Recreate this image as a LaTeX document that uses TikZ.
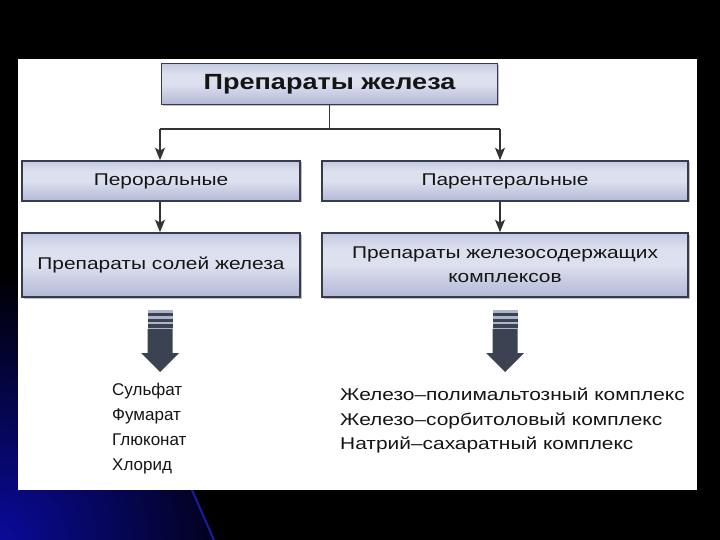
\documentclass[tikz,border=0pt]{standalone}
\usepackage{fontspec}
\setmainfont[FakeStretch=1.23]{Liberation Sans}
\newfontfamily\plainsans{Liberation Sans}
\usetikzlibrary{arrows.meta,shadows}
\definecolor{boxline}{HTML}{363B52}
\definecolor{shT}{HTML}{8F96BE}
\definecolor{shM}{HTML}{B3B8D6}
\definecolor{shL}{HTML}{DDE0EE}
\definecolor{shB}{HTML}{9CA2C8}
\definecolor{txt}{HTML}{151515}
\definecolor{fatdark}{HTML}{3B4252}
\definecolor{fatlight}{HTML}{AEB4CA}
\definecolor{bgblue}{HTML}{0A0A9A}
\definecolor{streak}{HTML}{1C1CA0}
\pgfdeclareverticalshading{boxshade}{100bp}{color(0bp)=(shB); color(25bp)=(shM); color(50bp)=(shL); color(62bp)=(shL); color(85bp)=(shM); color(100bp)=(shT)}
\tikzset{
  box/.style={draw=boxline, line width=1.6pt, shading=boxshade, text=txt, inner sep=0pt, align=center,
              font=\fontsize{17}{24}\selectfont,
              drop shadow={shadow xshift=1.5pt, shadow yshift=-1.5pt, fill=black, opacity=0.25}},
  conn/.style={draw=black!80, line width=1.6pt},
  arr/.style={conn, -{Stealth[length=12.5pt, width=10pt, inset=3pt]}},
  item/.style={anchor=base west, inner sep=0pt, text=txt, font=\fontsize{17}{18}\selectfont},
  narrowitem/.style={item, font=\plainsans\fontsize{17}{18}\selectfont},
  fatarrow/.pic={
    \fill[fatlight] (-12.5,0) rectangle (12.5,3);
    \fill[fatdark] (-12.5,3) rectangle (12.5,5.5);
    \fill[fatlight] (-12.5,5.5) rectangle (12.5,8.5);
    \fill[fatdark] (-12.5,8.5) rectangle (12.5,11.5);
    \fill[fatlight] (-12.5,11.5) rectangle (12.5,13.5);
    \fill[fatdark] (-12.5,13.5) rectangle (12.5,17.5);
    \fill[fatlight] (-12.5,17.5) rectangle (12.5,19);
    \fill[fatdark] (-12.5,19) -- (12.5,19) -- (12.5,43) -- (19,43) -- (0,62) -- (-19,43) -- (-12.5,43) -- cycle;
  }
}
\begin{document}
\begin{tikzpicture}[x=1pt,y=-1pt]
\useasboundingbox (0,0) rectangle (720,540);
% background
\fill[black] (0,0) rectangle (720,540);
\begin{scope}
  \clip (0,250) -- (0,540) -- (214,540) -- (190,488) -- (190,250) -- cycle;
  \shade[inner color=bgblue, outer color=black] (0,540) circle[radius=270];
\end{scope}
\draw[streak, line width=2pt, line cap=round] (192,490) -- (214,540);
\fill[white] (18,59) rectangle (697,490);

% boxes
\node[box, minimum width=336, minimum height=41, font=\bfseries\fontsize{22}{24}\selectfont] (top) at (329.5,84) {Препараты железа};
\node[box, minimum width=278, minimum height=40] (oral) at (161,181) {Пероральные};
\node[box, minimum width=366, minimum height=40] (par) at (505,181) {Парентеральные};
\node[box, minimum width=278, minimum height=64] (salt) at (161,265) {Препараты солей железа};
\node[box, minimum width=366, minimum height=64] (compl) at (505,265) {Препараты железосодержащих\\комплексов};

% connectors
\coordinate (j) at (329.5,129);
\coordinate (jl) at (160,129);
\coordinate (jr) at (500,129);
\draw[conn] (top.south) -- (j);
\draw[conn] (jl) -- (jr);
\draw[arr] (jl) -- (jl |- oral.north);
\draw[arr] (jr) -- (jr |- par.north);
\draw[arr] (oral.south -| jl) -- (salt.north -| jl);
\draw[arr] (par.south -| jr) -- (compl.north -| jr);

% fat arrows
\pic at (160,310) {fatarrow};
\pic at (505,310) {fatarrow};

% lists
\node[narrowitem] (s1) at (112,395) {Сульфат};
\node[narrowitem] (s2) at (112,420) {Фумарат};
\node[narrowitem] (s3) at (112,445) {Глюконат};
\node[narrowitem] (s4) at (112,470) {Хлорид};
\node[item] (r1) at (340,400) {Железо–полимальтозный комплекс};
\node[item] (r2) at (340,425) {Железо–сорбитоловый комплекс};
\node[item] (r3) at (340,449) {Натрий–сахаратный комплекс};
\end{tikzpicture}
\end{document}
